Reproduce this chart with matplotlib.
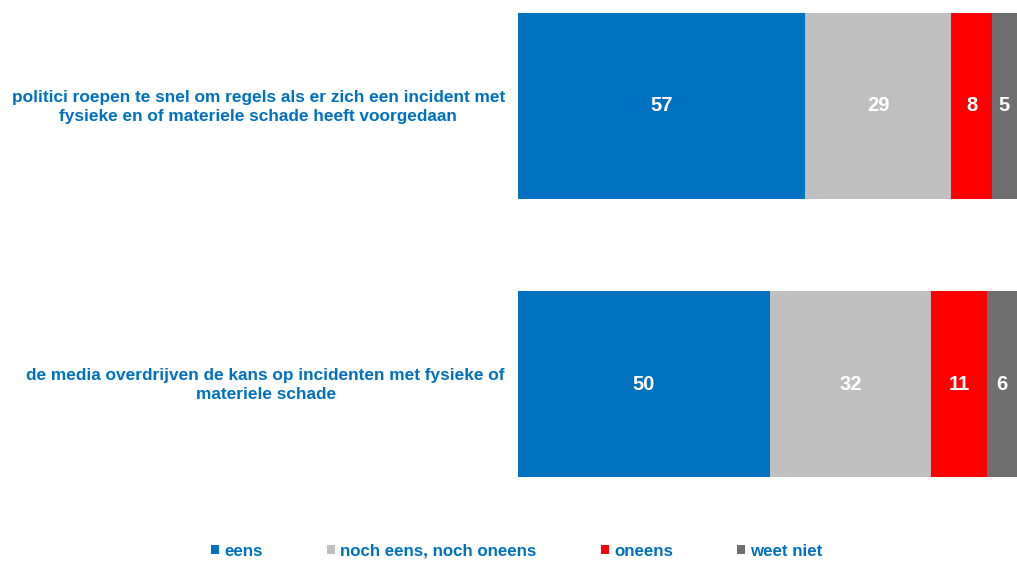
import matplotlib.pyplot as plt
import numpy as np

plt.rcParams['font.family'] = ['Liberation Sans', 'DejaVu Sans']

statements = [
    "politici roepen te snel om regels als er zich een incident met\nfysieke en of materiele schade heeft voorgedaan",
    "de media overdrijven de kans op incidenten met fysieke of\nmateriele schade",
]
answers = ["eens", "noch eens, noch oneens", "oneens", "weet niet"]
eens = [57, 50]
neutraal = [29, 32]
oneens = [8, 11]
weet_niet = [5, 6]
colors = ["#0070C0", "#BFBFBF", "#FF0000", "#6F6F6F"]
text_blue = "#0070C0"

W, H = 1017, 561
fig = plt.figure(figsize=(W / 100, H / 100), dpi=100)
ax = fig.add_axes([518 / W, 1 - 477 / H, 1 - 518 / W, (477 - 13) / H])

series = [eens, neutraal, oneens, weet_niet]
y = np.arange(len(statements))
left = np.zeros(len(statements))
bh = 0.667
for vals, col, name in zip(series, colors, answers):
    bars = ax.barh(y, vals, left=left, height=bh, color=col, label=name)
    for b, v in zip(bars, vals):
        ax.text(b.get_x() + b.get_width() / 2, b.get_y() + b.get_height() / 2, str(v),
                ha='center', va='center', color='white', fontsize=14.5, fontweight='bold')
    left += np.array(vals)

ax.set_xlim(0, left.max())
ax.set_ylim(len(statements) - 1 + bh / 2, -bh / 2)
ax.axis('off')

for yi, s in zip(y, statements):
    ax.annotate(s, xy=(0, yi), xycoords=('axes fraction', 'data'),
                xytext=(-13, -1), textcoords='offset pixels',
                ha='right', va='center', multialignment='center',
                color=text_blue, fontsize=12.4, fontweight='bold', linespacing=1.38)

leg = fig.legend(loc='center', bbox_to_anchor=(517 / W, 1 - 551 / H), ncol=4,
                 frameon=False, fontsize=12.2, handlelength=0.47, handleheight=0.47,
                 handletextpad=0.3, columnspacing=3.8)
for t in leg.get_texts():
    t.set_color(text_blue)
    t.set_fontweight('bold')

fig.savefig('out.png', dpi=100)
